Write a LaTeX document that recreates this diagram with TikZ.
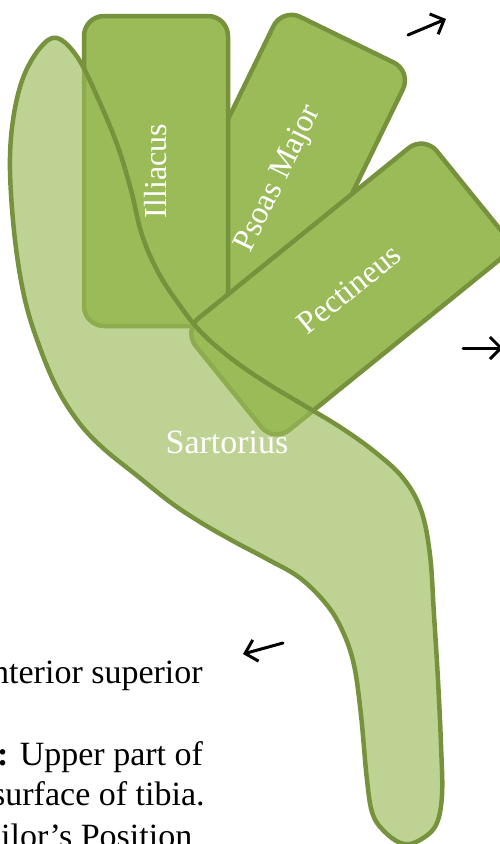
\documentclass[tikz,border=0pt]{standalone}
\usepackage{fontspec}
\setmainfont{Liberation Serif}
\usepackage{xcolor}
\usepackage{tikz}
\usetikzlibrary{arrows.meta}
\definecolor{musclefill}{HTML}{9BBB59}
\definecolor{muscleedge}{HTML}{76923C}

\begin{document}
\begin{tikzpicture}[
  x=1pt, y=-1pt,
  muscle/.style={draw=muscleedge, line width=4.5pt, fill=musclefill, rounded corners=20pt,
                 minimum width=310pt, minimum height=144pt, inner sep=0pt,
                 text=white, font=\fontsize{32}{38}\selectfont},
  band/.style={draw=muscleedge, line width=4.5pt, fill=musclefill, fill opacity=0.65},
  bandlabel/.style={anchor=base, inner sep=0pt, text=white,
                    font=\fontsize{34}{40}\selectfont},
  caption/.style={anchor=base west, inner sep=0pt, font=\fontsize{34}{41}\selectfont},
  pointer/.style={-{Straight Barb[length=11pt,width=22pt]}, line width=3pt,
                  line cap=round}
]
  \useasboundingbox (0,0) rectangle (500,844);
  \clip (0,0) rectangle (500,844);

  % the three fanned muscles
  \node[muscle, rotate=64] (psoas) at (279,179) {Psoas Major};
  \node[muscle, rotate=90] (illiacus) at (156,171) {Illiacus};
  \node[muscle, rotate=39] (pectineus) at (349,289) {Pectineus};

  % sartorius band on top
  \draw[band] plot[smooth cycle, tension=0.6] coordinates {
    (57,38) (78,58) (100,103) (118,147) (131,190) (142,235) (158,272)
    (178,303) (200,331) (228,356) (262,380) (300,403) (340,427) (375,452)
    (403,478) (421,510) (430,555) (434,615) (438,680) (441,745) (442,795)
    (436,825) (420,840) (404,844) (387,834) (373,815) (367,780) (361,715)
    (354,665) (343,632) (327,605) (300,578) (267,559) (233,541) (200,522)
    (170,502) (135,474) (104,449) (80,424) (58,390) (40,348) (25,300)
    (15,240) (10,170) (13,120) (23,78) (40,48)};
  \node[bandlabel] (sartorius) at (227,453) {Sartorius};

  % arrows
  \coordinate (upA) at (408,35);
  \coordinate (upB) at (446,19);
  \coordinate (rtA) at (463,348);
  \coordinate (rtB) at (503,348);
  \coordinate (lfA) at (283,643);
  \coordinate (lfB) at (243,654);
  \draw[pointer] (upA) -- (upB);
  \draw[pointer] (rtA) -- (rtB);
  \draw[pointer] (lfA) -- (lfB);

  % text at the left
  \node[caption] (origin) at (-8,683) {nterior superior};
  \node[caption] (insert) at (-3,765) {\textbf{:} Upper part of};
  \node[caption] (tibia) at (-8,805) {surface of tibia.};
  \node[caption] (pose) at (1,847) {ilor’s Position};
\end{tikzpicture}
\end{document}
